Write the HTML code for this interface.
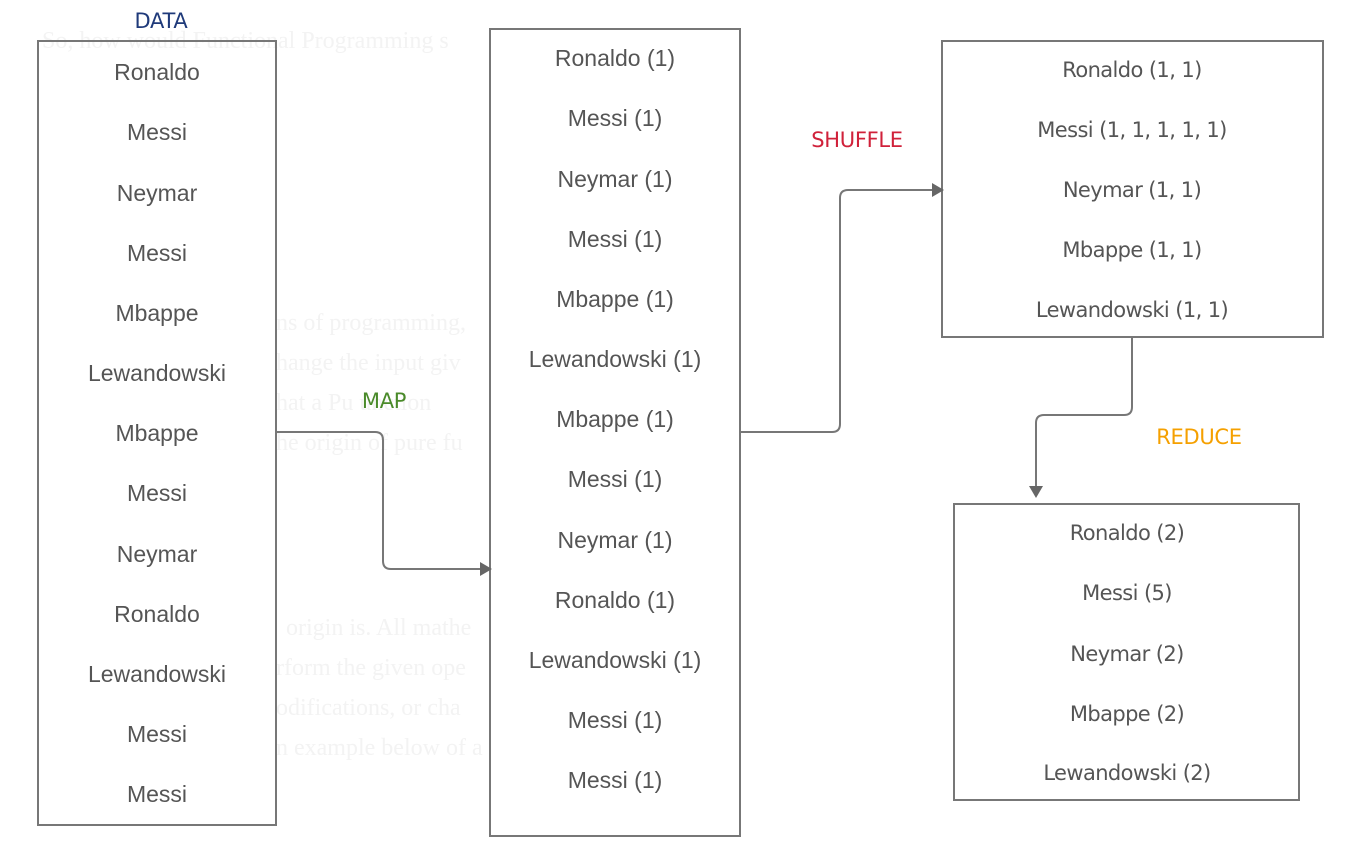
<!DOCTYPE html>
<html><head><meta charset="utf-8"><style>
html,body{margin:0;padding:0;background:#fff;}
svg{display:block}
.a{font-family:"Liberation Sans",sans-serif;font-size:23px;fill:#555;text-anchor:middle;dominant-baseline:central}
.b{font-family:"DejaVu Sans",sans-serif;font-size:21px;letter-spacing:-0.6px;fill:#555;text-anchor:middle;dominant-baseline:central}
.l{font-family:"DejaVu Sans",sans-serif;font-size:21px;letter-spacing:-0.3px;text-anchor:middle;dominant-baseline:central}
.bg{font-family:"Liberation Serif",serif;font-size:24px;fill:#f3f3f3}
</style></head><body>
<svg width="1369" height="844" viewBox="0 0 1369 844">
<text class="bg" x="42" y="48">So, how would Functional Programming s</text>
<text class="bg" x="276" y="330">ns of programming,</text>
<text class="bg" x="276" y="370">hange the input giv</text>
<text class="bg" x="276" y="410">hat a Pu   unction</text>
<text class="bg" x="276" y="450">he origin of pure fu</text>
<text class="bg" x="286" y="635">origin is. All mathe</text>
<text class="bg" x="276" y="675">rform the given ope</text>
<text class="bg" x="276" y="715">odifications, or cha</text>
<text class="bg" x="276" y="755">n example below of a</text>
<g fill="none" stroke="#777" stroke-width="2">
<rect x="38" y="41" width="238" height="784"/>
<rect x="490" y="29" width="250" height="807"/>
<rect x="942" y="41" width="381" height="296"/>
<rect x="954" y="504" width="345" height="296"/>
<path d="M276 432 H375 Q383 432 383 440 V561 Q383 569 391 569 H482"/>
<path d="M740 432 H832 Q840 432 840 424 V198 Q840 190 848 190 H934"/>
<path d="M1132 337 V407 Q1132 415 1124 415 H1044 Q1036 415 1036 423 V488"/>
</g>
<g fill="#666">
<polygon points="492,569 480,562 480,576"/>
<polygon points="944,190 932,183 932,197"/>
<polygon points="1036,498 1029,486 1043,486"/>
</g>
<text class="l" x="161" y="21" fill="#1f3a7a">DATA</text>
<text class="l" x="384" y="401" fill="#4a8a2a">MAP</text>
<text class="l" x="857" y="140" fill="#d0213a">SHUFFLE</text>
<text class="l" x="1199" y="437" fill="#f5a000">REDUCE</text>
<g class="a">
<text x="157" y="72">Ronaldo</text><text x="157" y="132">Messi</text><text x="157" y="193">Neymar</text><text x="157" y="253">Messi</text><text x="157" y="313">Mbappe</text><text x="157" y="373">Lewandowski</text><text x="157" y="433">Mbappe</text><text x="157" y="493">Messi</text><text x="157" y="554">Neymar</text><text x="157" y="614">Ronaldo</text><text x="157" y="674">Lewandowski</text><text x="157" y="734">Messi</text><text x="157" y="794">Messi</text>
<text x="615" y="58">Ronaldo (1)</text><text x="615" y="118">Messi (1)</text><text x="615" y="179">Neymar (1)</text><text x="615" y="239">Messi (1)</text><text x="615" y="299">Mbappe (1)</text><text x="615" y="359">Lewandowski (1)</text><text x="615" y="419">Mbappe (1)</text><text x="615" y="479">Messi (1)</text><text x="615" y="540">Neymar (1)</text><text x="615" y="600">Ronaldo (1)</text><text x="615" y="660">Lewandowski (1)</text><text x="615" y="720">Messi (1)</text><text x="615" y="780">Messi (1)</text>
</g>
<g class="b">
<text x="1132" y="70">Ronaldo (1, 1)</text><text x="1132" y="130">Messi (1, 1, 1, 1, 1)</text><text x="1132" y="190">Neymar (1, 1)</text><text x="1132" y="250">Mbappe (1, 1)</text><text x="1132" y="310">Lewandowski (1, 1)</text>
<text x="1127" y="533">Ronaldo (2)</text><text x="1127" y="593">Messi (5)</text><text x="1127" y="654">Neymar (2)</text><text x="1127" y="714">Mbappe (2)</text><text x="1127" y="773">Lewandowski (2)</text>
</g>
</svg>
</body></html>
